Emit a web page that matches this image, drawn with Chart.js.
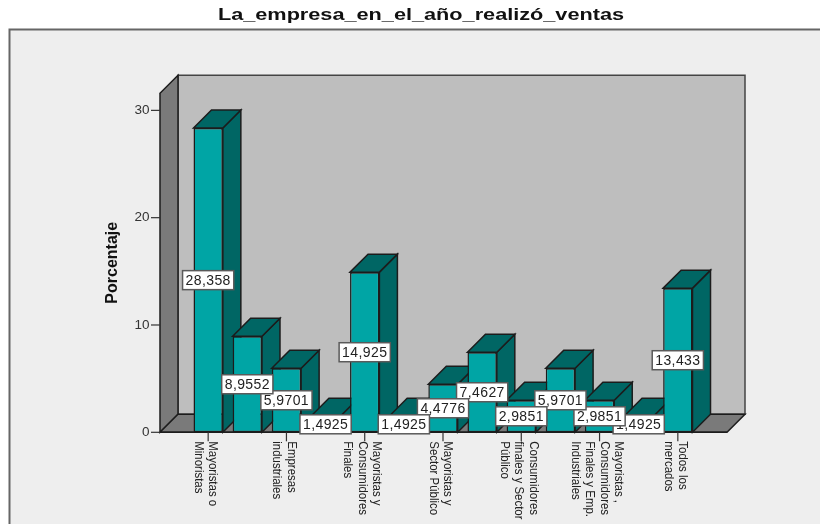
<!DOCTYPE html>
<html>
<head>
<meta charset="utf-8">
<style>html,body{margin:0;padding:0;background:#fff}canvas{display:block}</style>
<script src="https://cdn.jsdelivr.net/npm/chart.js@4"></script>
</head>
<body>
<canvas id="c" width="820" height="524"></canvas>
<script>
const titleText = 'La_empresa_en_el_año_realizó_ventas';
const yTitle = 'Porcentaje';
const categories = [
  ['Mayoristas o', 'Minoristas'], '',
  ['Empresas', 'industriales'], '',
  ['Mayoristas y', 'Consumidores', 'Finales'], '',
  ['Mayoristas y', 'Sector Público'], '',
  ['Consumidores', 'finales y Sector', 'Público'], '',
  ['Mayoristas ,', 'Consumidores', 'Finales y Emp.', 'Industriales'], '',
  ['Todos los', 'mercados']
];
const percentages = [28.358, 8.9552, 5.9701, 1.4925, 14.925, 1.4925, 4.4776, 7.4627, 2.9851, 5.9701, 2.9851, 1.4925, 13.433];
const valueLabels = ['28,358', '8,9552', '5,9701', '1,4925', '14,925', '1,4925', '4,4776', '7,4627', '2,9851', '5,9701', '2,9851', '1,4925', '13,433'];
const yTicks = [0, 10, 20, 30];

const FACE = '#00a5a5', SHADE = '#006664', WALL = '#bebebe', SLAB = '#7a7a7a', PANEL = '#eeeeee', EDGE = '#1c1c1c';
const DEPTH = 18, LEFT_GAP = 28.6, RIGHT_GAP = 29.6;
const SANS = '"Liberation Sans", Arial, sans-serif';

function poly(ctx, pts, fill, stroke, lw) {
  ctx.beginPath();
  pts.forEach((p, i) => i ? ctx.lineTo(p[0], p[1]) : ctx.moveTo(p[0], p[1]));
  ctx.closePath();
  if (fill) { ctx.fillStyle = fill; ctx.fill(); }
  if (stroke) { ctx.strokeStyle = stroke; ctx.lineWidth = lw; ctx.lineJoin = 'miter'; ctx.stroke(); }
}

// Outer panel, 3D walls and the extruded sides of the bars.
const scene = {
  id: 'scene',
  afterLayout(chart) {
    // The heading is set in a wide face: stretch it sideways about its centre.
    const block = chart.titleBlock;
    if (block.stretched) return;
    block.stretched = true;
    const paint = block.draw;
    block.draw = function () {
      const ctx = this.ctx, cx = this.left + this.width / 2;
      ctx.save();
      ctx.translate(cx, 0);
      ctx.scale(1.355, 1);
      ctx.translate(-cx, 0);
      paint.call(this);
      ctx.restore();
    };
  },
  beforeDraw(chart) {
    const ctx = chart.ctx;
    ctx.save();
    ctx.fillStyle = '#fff';
    ctx.fillRect(0, 0, chart.width, chart.height);
    ctx.fillStyle = PANEL;
    ctx.fillRect(9.5, 29.5, chart.width, chart.height);
    ctx.strokeStyle = '#666';
    ctx.lineWidth = 2;
    ctx.beginPath();
    ctx.moveTo(9.5, chart.height);
    ctx.lineTo(9.5, 29.5);
    ctx.lineTo(chart.width, 29.5);
    ctx.stroke();
    ctx.restore();
  },
  beforeDatasetsDraw(chart) {
    const ctx = chart.ctx;
    const a = chart.chartArea, y = chart.scales.y;
    const l = a.left - LEFT_GAP, r = a.right + RIGHT_GAP, t = a.top, b = y.getPixelForValue(0);
    ctx.save();
    poly(ctx, [[l + DEPTH, t - DEPTH], [r + DEPTH, t - DEPTH], [r + DEPTH, b - DEPTH], [l + DEPTH, b - DEPTH]], WALL, '#444', 1.5);
    poly(ctx, [[l, t], [l + DEPTH, t - DEPTH], [l + DEPTH, b - DEPTH], [l, b]], SLAB, EDGE, 1.5);
    poly(ctx, [[l, b], [l + DEPTH, b - DEPTH], [r + DEPTH, b - DEPTH], [r, b]], SLAB, EDGE, 1.5);

    ctx.strokeStyle = '#333';
    ctx.lineWidth = 1.2;
    y.ticks.forEach(tk => {
      const py = y.getPixelForValue(tk.value);
      ctx.beginPath();
      ctx.moveTo(l - 9, py);
      ctx.lineTo(l, py);
      ctx.stroke();
    });

    // Side and top faces go down first so every front face sits above them.
    chart.getDatasetMeta(0).data.forEach(bar => {
      const x0 = bar.x - bar.width / 2, x1 = bar.x + bar.width / 2;
      poly(ctx, [[x1, bar.y], [x1 + DEPTH, bar.y - DEPTH], [x1 + DEPTH, bar.base - DEPTH], [x1, bar.base]], SHADE, EDGE, 1.5);
      poly(ctx, [[x0, bar.y], [x0 + DEPTH, bar.y - DEPTH], [x1 + DEPTH, bar.y - DEPTH], [x1, bar.y]], SHADE, EDGE, 1.5);
    });
    ctx.restore();
  },
  afterDatasetsDraw(chart) {
    const ctx = chart.ctx, a = chart.chartArea, xs = chart.scales.x, b = chart.scales.y.getPixelForValue(0);
    ctx.save();
    ctx.strokeStyle = EDGE;
    ctx.lineWidth = 1.5;
    ctx.beginPath();
    ctx.moveTo(a.left - LEFT_GAP, b);
    ctx.lineTo(a.right + RIGHT_GAP, b);
    ctx.stroke();

    // Rotated category captions under the floor, first line on the right.
    ctx.fillStyle = '#222';
    ctx.font = '13px ' + SANS;
    ctx.textAlign = 'left';
    ctx.textBaseline = 'middle';
    categories.forEach((cat, i) => {
      if (!cat) return;
      const x = xs.getPixelForValue(i);
      ctx.strokeStyle = '#333';
      ctx.lineWidth = 1.2;
      ctx.beginPath();
      ctx.moveTo(x, b);
      ctx.lineTo(x, b + 9);
      ctx.stroke();
      const lead = 14.5, mid = x - 2.5;
      cat.forEach((line, k) => {
        const lx = mid + ((cat.length - 1) / 2 - k) * lead;
        ctx.save();
        ctx.translate(lx, b + 9);
        ctx.rotate(Math.PI / 2);
        ctx.scale(0.88, 1);
        ctx.fillText(line, 0, 0);
        ctx.restore();
      });
    });

    // Value boxes, painted last to first so the earlier ones stay on top.
    const bars = chart.getDatasetMeta(0).data;
    ctx.font = '14px ' + SANS;
    ctx.letterSpacing = '0.4px';
    ctx.textAlign = 'center';
    for (let i = bars.length - 1; i >= 0; i--) {
      const bar = bars[i], cy = (bar.y + bar.base) / 2;
      const w = ctx.measureText(valueLabels[i]).width + 6;
      const h = 19;
      ctx.fillStyle = '#fff';
      ctx.fillRect(bar.x - w / 2, cy - h / 2, w, h);
      ctx.strokeStyle = '#5a5a5a';
      ctx.lineWidth = 1.5;
      ctx.strokeRect(bar.x - w / 2, cy - h / 2, w, h);
      ctx.fillStyle = '#222';
      ctx.fillText(valueLabels[i], bar.x, cy + 0.5);
    }
    ctx.letterSpacing = '0px';
    ctx.restore();
  }
};

new Chart(document.getElementById('c'), {
  type: 'bar',
  data: {
    labels: categories,
    datasets: [{
      data: percentages,
      backgroundColor: FACE,
      borderColor: EDGE,
      borderWidth: 1.5,
      borderSkipped: false,
      categoryPercentage: 1,
      barPercentage: 0.75
    }]
  },
  plugins: [scene],
  options: {
    responsive: false,
    animation: false,
    layout: { padding: { left: 22, right: 0, top: 0, bottom: 91.7 } },
    plugins: {
      legend: { display: false },
      tooltip: { enabled: false },
      title: {
        display: true,
        text: titleText,
        color: '#111',
        font: { family: SANS, size: 16, weight: 'bold' },
        padding: { top: 6, bottom: 68 }
      }
    },
    scales: {
      x: {
        afterFit(s) { s.height = 0; },
        grid: { display: false },
        border: { display: false },
        ticks: { display: false, autoSkip: false }
      },
      y: {
        min: 0,
        max: 31.6,
        afterFit(s) { s.width = 166.6; },
        afterBuildTicks(s) { s.ticks = yTicks.map(value => ({ value })); },
        grid: { display: false },
        border: { display: false },
        ticks: {
          color: '#333',
          padding: 31,
          font: { family: SANS, size: 13.5 }
        },
        title: {
          display: true,
          text: yTitle,
          color: '#111',
          font: { family: SANS, size: 16, weight: 'bold' },
          padding: { top: 81, bottom: 0 }
        }
      },
      gutter: {
        type: 'linear',
        position: 'right',
        afterFit(s) { s.width = 122.6; },
        grid: { display: false },
        border: { display: false },
        ticks: { display: false }
      }
    }
  }
});
</script>
</body>
</html>
